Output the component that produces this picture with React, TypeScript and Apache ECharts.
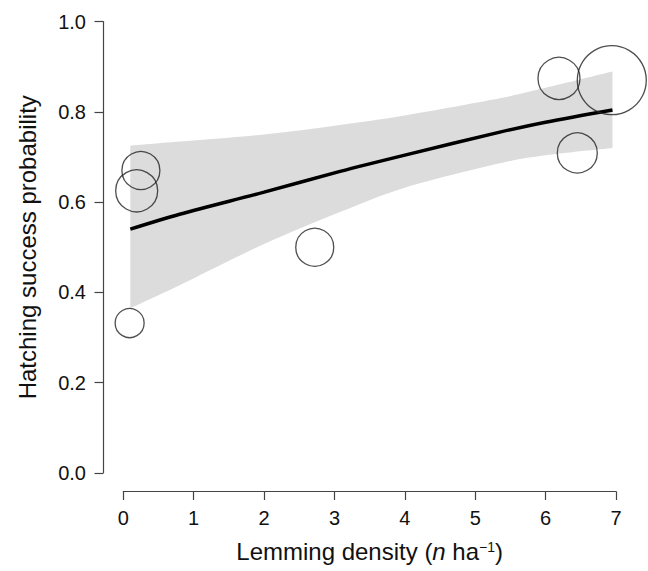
import React, { useEffect, useRef } from "react";
import * as echarts from "echarts";

// Observed nests: lemming density (n/ha), hatching success, bubble diameter (sample weight, px)
const obsDensity = [0.09, 0.25, 0.19, 2.72, 6.19, 6.94, 6.45];
const obsHatching = [0.332, 0.67, 0.625, 0.5, 0.874, 0.87, 0.709];
const obsBubble = [29, 38, 42, 38, 42, 69, 40];

// Fitted logistic curve and confidence band
const fitDensity = [0.1, 0.8, 2, 3.08, 4, 5.35, 6, 6.95];
const fitMean = [0.54, 0.573, 0.622, 0.668, 0.704, 0.755, 0.777, 0.804];
const bandLower = [0.365, 0.416, 0.507, 0.578, 0.632, 0.686, 0.704, 0.72];
const bandUpper = [0.725, 0.734, 0.75, 0.771, 0.792, 0.83, 0.853, 0.889];

const xTicks = [0, 1, 2, 3, 4, 5, 6, 7];
const yTicks = [0, 0.2, 0.4, 0.6, 0.8, 1.0];

const FONT = "'Liberation Sans', Arial, Helvetica, sans-serif";

type Pt = number[];

function splineThrough(ctx: any, pts: Pt[]) {
  for (let i = 0; i < pts.length - 1; i++) {
    const p0 = pts[i - 1] || pts[i];
    const p1 = pts[i];
    const p2 = pts[i + 1];
    const p3 = pts[i + 2] || pts[i + 1];
    const c1x = p1[0] + (p2[0] - p0[0]) / 6;
    const c1y = p1[1] + (p2[1] - p0[1]) / 6;
    const c2x = p2[0] - (p3[0] - p1[0]) / 6;
    const c2y = p2[1] - (p3[1] - p1[1]) / 6;
    ctx.bezierCurveTo(c1x, c1y, c2x, c2y, p2[0], p2[1]);
  }
}

let registered = false;
function registerBand() {
  if (registered) return;
  const Band = echarts.graphic.extendShape({
    type: "ciBand",
    shape: { upper: [] as Pt[], lower: [] as Pt[] },
    buildPath(ctx: any, shape: any) {
      const up: Pt[] = shape.upper;
      const lo: Pt[] = shape.lower;
      if (!up.length) return;
      ctx.moveTo(up[0][0], up[0][1]);
      splineThrough(ctx, up);
      const loRev = lo.slice().reverse();
      ctx.lineTo(loRev[0][0], loRev[0][1]);
      splineThrough(ctx, loRev);
      ctx.closePath();
    },
  } as any);
  echarts.graphic.registerShape("ciBand", Band as any);
  registered = true;
}

export default function App() {
  const ref = useRef<HTMLDivElement>(null);
  useEffect(() => {
    if (!ref.current) return;
    registerBand();
    const chart = echarts.init(ref.current, undefined, { renderer: "svg" });
    const axisColor = "#444";
    chart.setOption({
      animation: false,
      backgroundColor: "#ffffff",
      textStyle: { fontFamily: FONT },
      grid: {
        left: 123.3,
        right: 32,
        top: 21.5,
        bottom: 98,
        containLabel: false,
        outerBoundsMode: "none",
      },
      xAxis: {
        type: "value",
        min: xTicks[0],
        max: xTicks[xTicks.length - 1],
        interval: 1,
        offset: 18.5,
        axisLine: { show: true, onZero: false, lineStyle: { color: axisColor, width: 1.2 } },
        axisTick: { show: true, length: 8.5, lineStyle: { color: axisColor, width: 1.2 } },
        axisLabel: { color: "#111", fontSize: 20, margin: 16, fontFamily: FONT },
        splitLine: { show: false },
        name: "{r|Lemming density (}{i|n}{r| ha}{s|−1}{r|)}",
        nameLocation: "middle",
        nameGap: 48,
        nameTextStyle: {
          color: "#111",
          fontSize: 24,
          fontFamily: FONT,
          rich: {
            r: { fontSize: 24, color: "#111", fontFamily: FONT },
            i: { fontSize: 24, color: "#111", fontStyle: "italic", fontFamily: FONT },
            s: { fontSize: 14, color: "#111", verticalAlign: "top", fontFamily: FONT },
          },
        },
      },
      yAxis: {
        type: "value",
        min: yTicks[0],
        max: yTicks[yTicks.length - 1],
        interval: 0.2,
        offset: 20.3,
        axisLine: { show: true, onZero: false, lineStyle: { color: axisColor, width: 1.2 } },
        axisTick: { show: true, length: 8.5, lineStyle: { color: axisColor, width: 1.2 } },
        axisLabel: {
          color: "#111",
          fontSize: 20,
          margin: 17,
          fontFamily: FONT,
          formatter: (v: number) => v.toFixed(1),
        },
        splitLine: { show: false },
        name: "Hatching success probability",
        nameLocation: "middle",
        nameGap: 64,
        nameTextStyle: { color: "#111", fontSize: 24, fontFamily: FONT },
      },
      series: [
        {
          type: "custom",
          silent: true,
          z: 1,
          data: [[fitDensity[0], bandLower[0]]],
          renderItem: (_params: any, api: any) => {
            const upper = fitDensity.map((x, i) => api.coord([x, bandUpper[i]]));
            const lower = fitDensity.map((x, i) => api.coord([x, bandLower[i]]));
            return {
              type: "ciBand",
              shape: { upper, lower },
              style: { fill: "#dcdcdc", stroke: "none" },
            };
          },
        },
        {
          type: "line",
          data: fitDensity.map((x, i) => [x, fitMean[i]]),
          smooth: 0.3,
          symbol: "none",
          lineStyle: { color: "#000", width: 3.5 },
          z: 3,
        },
        {
          type: "scatter",
          data: obsDensity.map((x, i) => [x, obsHatching[i], obsBubble[i]]),
          symbol: "circle",
          symbolSize: (v: number[]) => v[2],
          itemStyle: { color: "rgba(0,0,0,0)", borderColor: "#222", borderWidth: 1.3 },
          z: 4,
        },
      ],
    });
    return () => chart.dispose();
  }, []);
  return (
    <div
      ref={ref}
      style={{ position: "fixed", left: 0, top: 0, width: 648, height: 571, background: "#fff" }}
    />
  );
}
